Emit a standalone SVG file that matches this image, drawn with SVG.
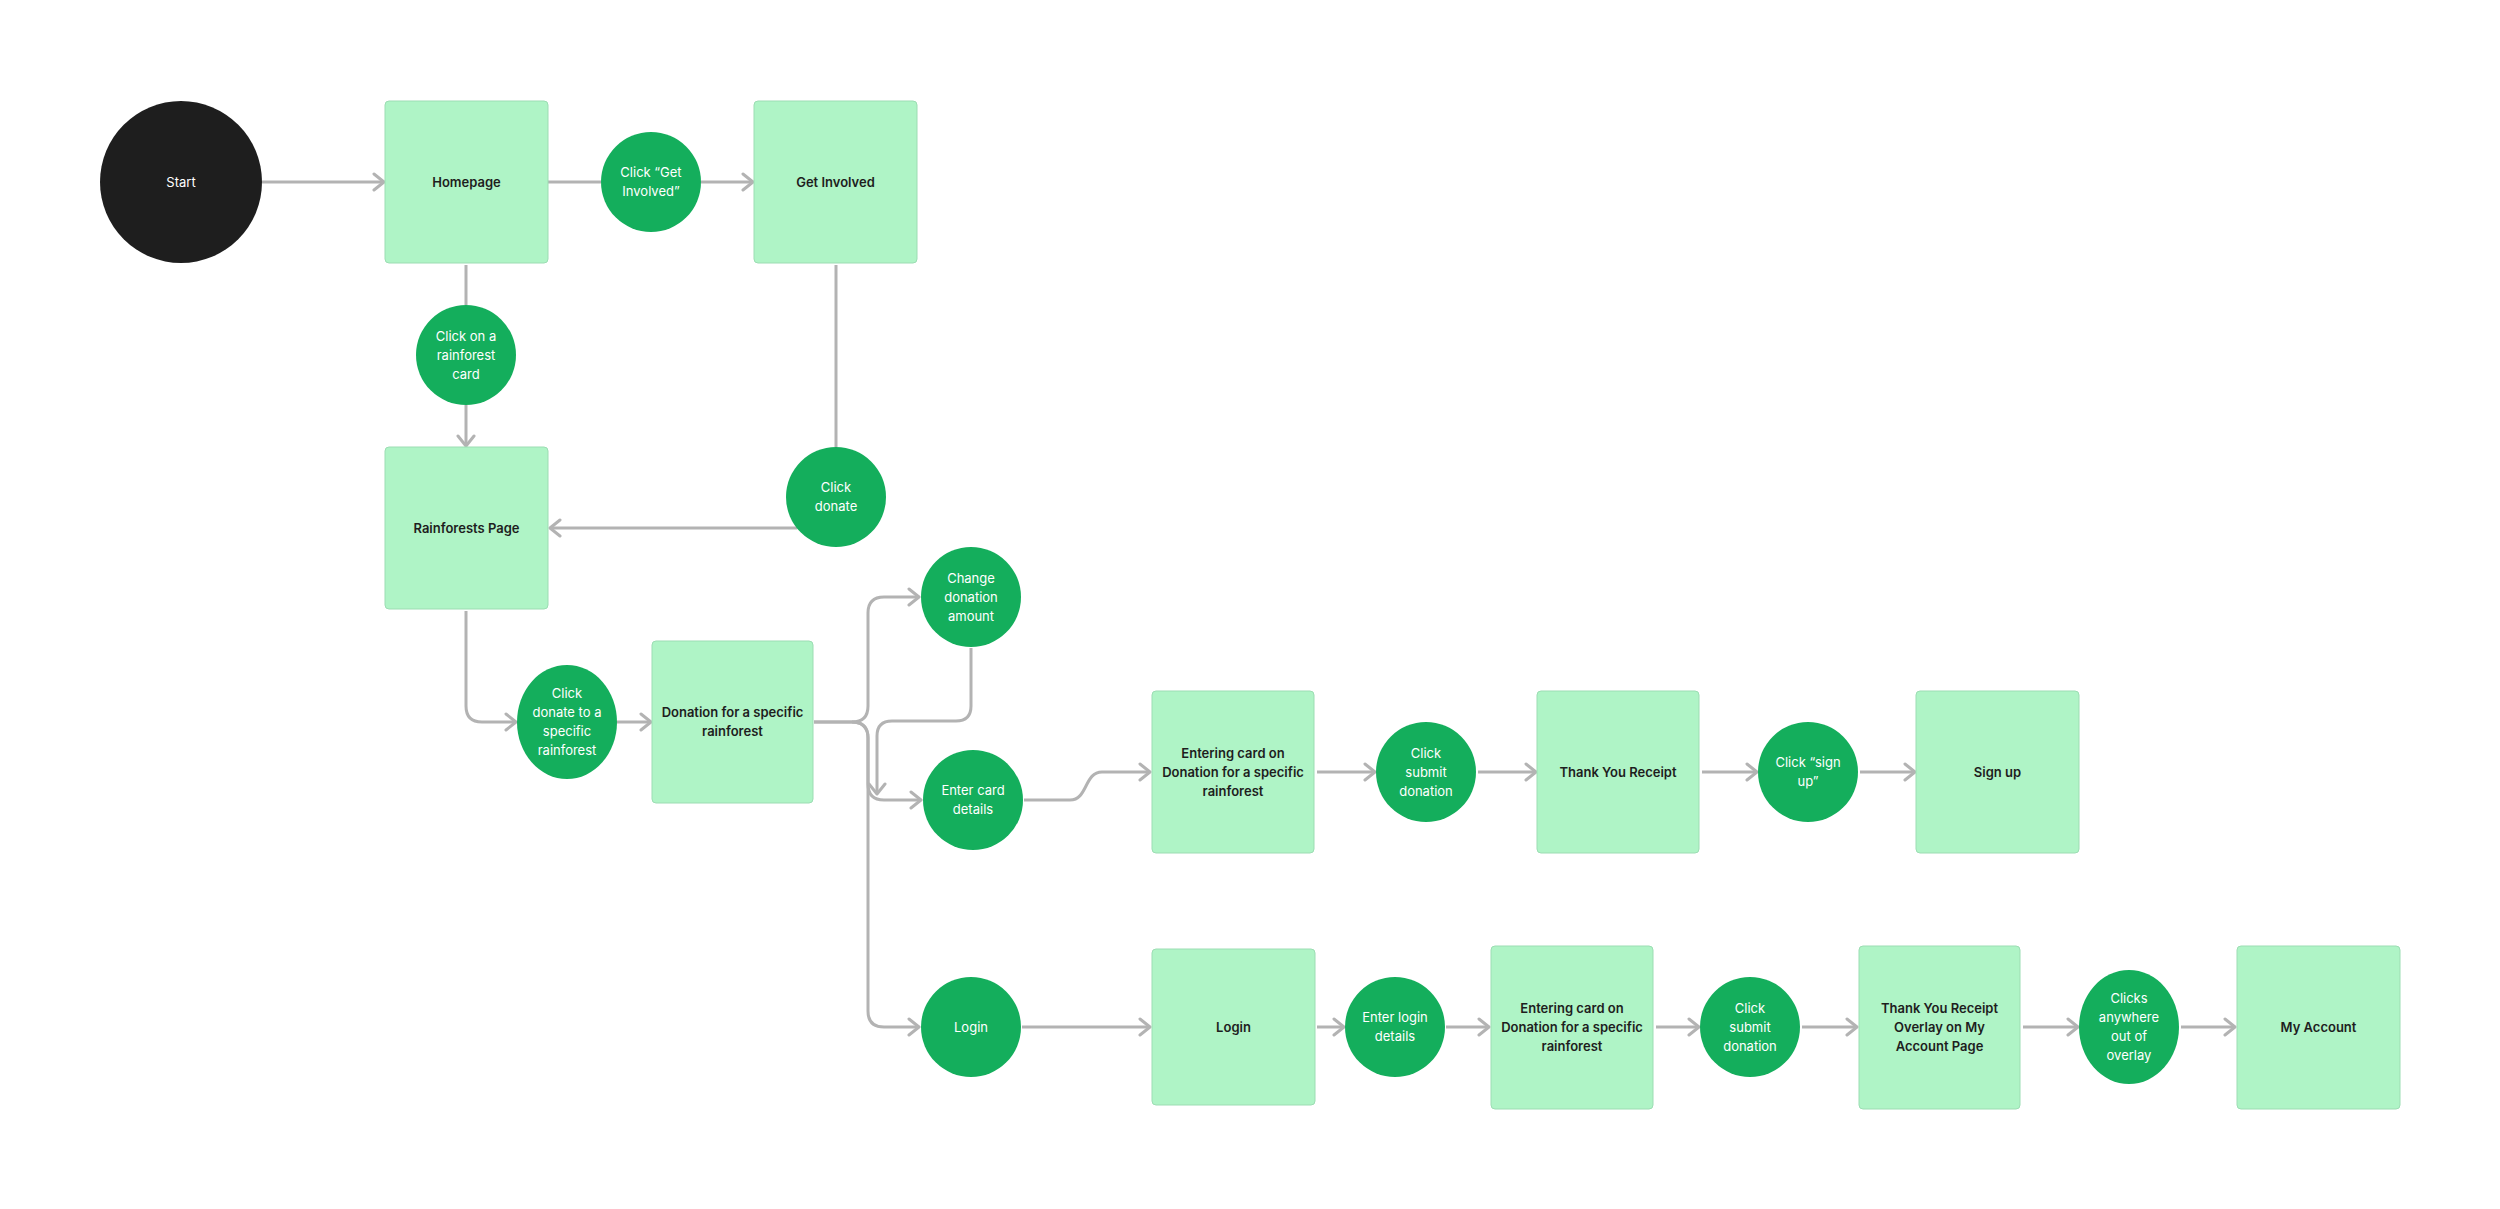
<svg xmlns="http://www.w3.org/2000/svg" width="2500" height="1209" viewBox="0 0 2500 1209">
<defs>
<style>
.bg{fill:#FFFFFF}
.page{fill:#AFF4C6;stroke:#9CDDB3;stroke-width:1}
.act{fill:#14AE5C}
.start{fill:#1E1E1E}
.lt{font-family:Inter,"Liberation Sans",sans-serif;font-size:13px;font-weight:600;fill:#1E1E1E;text-anchor:middle}
.wt{font-family:Inter,"Liberation Sans",sans-serif;font-size:13px;font-weight:400;fill:#FFFFFF;text-anchor:middle}
.c{fill:none;stroke:#B3B3B3;stroke-width:3;stroke-linejoin:round}
</style>
<marker id="ah" markerUnits="userSpaceOnUse" markerWidth="24" markerHeight="24" viewBox="-12 -12 24 24" refX="0" refY="0" orient="auto">
<path d="M -10 -8 L 0 0 L -10 8" fill="none" stroke="#B3B3B3" stroke-width="3" stroke-linecap="round" stroke-linejoin="round"/>
</marker>
</defs>
<rect class="bg" x="0" y="0" width="2500" height="1209"/>

<g id="connectors">
<path class="c" d="M 262 182 H 384" marker-end="url(#ah)"/>
<path class="c" d="M 548 182 H 601"/>
<path class="c" d="M 701 182 H 753" marker-end="url(#ah)"/>
<path class="c" d="M 466 265 V 305"/>
<path class="c" d="M 466 405 V 446" marker-end="url(#ah)"/>
<path class="c" d="M 836 265 V 447"/>
<path class="c" d="M 797 528 H 550" marker-end="url(#ah)"/>
<path class="c" d="M 466 611 V 706 Q 466 722 482 722 H 516" marker-end="url(#ah)"/>
<path class="c" d="M 617 722 H 651" marker-end="url(#ah)"/>
<path class="c" d="M 814 722 H 852 Q 868 722 868 706 V 613 Q 868 597 884 597 H 919" marker-end="url(#ah)"/>
<path class="c" d="M 814 722 H 852 Q 868 722 868 738 V 784 Q 868 800 884 800 H 921" marker-end="url(#ah)"/>
<path class="c" d="M 852 722 Q 868 722 868 738 V 1011 Q 868 1027 884 1027 H 919" marker-end="url(#ah)"/>
<path class="c" d="M 971 648 V 706 Q 971 721 956 721 H 892 Q 877 721 877 736 V 794" marker-end="url(#ah)"/>
<path class="c" d="M 1024 800 H 1070 C 1088 800 1084 772 1102 772 H 1150" marker-end="url(#ah)"/>
<path class="c" d="M 1317 772 H 1375" marker-end="url(#ah)"/>
<path class="c" d="M 1478 772 H 1536" marker-end="url(#ah)"/>
<path class="c" d="M 1702 772 H 1757" marker-end="url(#ah)"/>
<path class="c" d="M 1860 772 H 1915" marker-end="url(#ah)"/>
<path class="c" d="M 1022 1027 H 1150" marker-end="url(#ah)"/>
<path class="c" d="M 1317 1027 H 1344" marker-end="url(#ah)"/>
<path class="c" d="M 1446 1027 H 1489" marker-end="url(#ah)"/>
<path class="c" d="M 1656 1027 H 1699" marker-end="url(#ah)"/>
<path class="c" d="M 1802 1027 H 1857" marker-end="url(#ah)"/>
<path class="c" d="M 2023 1027 H 2078" marker-end="url(#ah)"/>
<path class="c" d="M 2181 1027 H 2235" marker-end="url(#ah)"/>
</g>

<g id="start"><circle class="start" cx="181" cy="182" r="81"/><text class="wt" x="181" y="186.6">Start</text></g>
<g id="homepage"><rect class="page" x="385" y="101" width="163" height="162" rx="4"/><text class="lt" x="466.5" y="186.6">Homepage</text></g>
<g id="click-get-involved"><circle class="act" cx="651" cy="182" r="50"/><text class="wt" x="651" y="177.1">Click “Get</text><text class="wt" x="651" y="196.1">Involved”</text></g>
<g id="get-involved"><rect class="page" x="754" y="101" width="163" height="162" rx="4"/><text class="lt" x="835.5" y="186.6">Get Involved</text></g>
<g id="click-rainforest-card"><circle class="act" cx="466" cy="355" r="50"/><text class="wt" x="466" y="340.6">Click on a</text><text class="wt" x="466" y="359.6">rainforest</text><text class="wt" x="466" y="378.6">card</text></g>
<g id="rainforests-page"><rect class="page" x="385" y="447" width="163" height="162" rx="4"/><text class="lt" x="466.5" y="532.6">Rainforests Page</text></g>
<g id="click-donate"><circle class="act" cx="836" cy="497" r="50"/><text class="wt" x="836" y="492.1">Click</text><text class="wt" x="836" y="511.1">donate</text></g>
<g id="click-donate-specific"><ellipse class="act" cx="567" cy="722" rx="50" ry="57"/><text class="wt" x="567" y="698.1">Click</text><text class="wt" x="567" y="717.1">donate to a</text><text class="wt" x="567" y="736.1">specific</text><text class="wt" x="567" y="755.1">rainforest</text></g>
<g id="donation-specific"><rect class="page" x="652" y="641" width="161" height="162" rx="4"/><text class="lt" x="732.5" y="717.1">Donation for a specific</text><text class="lt" x="732.5" y="736.1">rainforest</text></g>
<g id="change-donation"><circle class="act" cx="971" cy="597" r="50"/><text class="wt" x="971" y="582.6">Change</text><text class="wt" x="971" y="601.6">donation</text><text class="wt" x="971" y="620.6">amount</text></g>
<g id="enter-card"><circle class="act" cx="973" cy="800" r="50"/><text class="wt" x="973" y="795.1">Enter card</text><text class="wt" x="973" y="814.1">details</text></g>
<g id="entering-card-1"><rect class="page" x="1152" y="691" width="162" height="162" rx="4"/><text class="lt" x="1233" y="757.6">Entering card on</text><text class="lt" x="1233" y="776.6">Donation for a specific</text><text class="lt" x="1233" y="795.6">rainforest</text></g>
<g id="click-submit-1"><circle class="act" cx="1426" cy="772" r="50"/><text class="wt" x="1426" y="757.6">Click</text><text class="wt" x="1426" y="776.6">submit</text><text class="wt" x="1426" y="795.6">donation</text></g>
<g id="thank-you"><rect class="page" x="1537" y="691" width="162" height="162" rx="4"/><text class="lt" x="1618" y="776.6">Thank You Receipt</text></g>
<g id="click-sign-up"><circle class="act" cx="1808" cy="772" r="50"/><text class="wt" x="1808" y="767.1">Click “sign</text><text class="wt" x="1808" y="786.1">up”</text></g>
<g id="sign-up"><rect class="page" x="1916" y="691" width="163" height="162" rx="4"/><text class="lt" x="1997.5" y="776.6">Sign up</text></g>
<g id="login-action"><circle class="act" cx="971" cy="1027" r="50"/><text class="wt" x="971" y="1031.6">Login</text></g>
<g id="login-page"><rect class="page" x="1152" y="949" width="163" height="156" rx="4"/><text class="lt" x="1233.5" y="1031.6">Login</text></g>
<g id="enter-login"><circle class="act" cx="1395" cy="1027" r="50"/><text class="wt" x="1395" y="1022.1">Enter login</text><text class="wt" x="1395" y="1041.1">details</text></g>
<g id="entering-card-2"><rect class="page" x="1491" y="946" width="162" height="163" rx="4"/><text class="lt" x="1572" y="1012.6">Entering card on</text><text class="lt" x="1572" y="1031.6">Donation for a specific</text><text class="lt" x="1572" y="1050.6">rainforest</text></g>
<g id="click-submit-2"><circle class="act" cx="1750" cy="1027" r="50"/><text class="wt" x="1750" y="1012.6">Click</text><text class="wt" x="1750" y="1031.6">submit</text><text class="wt" x="1750" y="1050.6">donation</text></g>
<g id="thank-you-overlay"><rect class="page" x="1859" y="946" width="161" height="163" rx="4"/><text class="lt" x="1939.5" y="1012.6">Thank You Receipt</text><text class="lt" x="1939.5" y="1031.6">Overlay on My</text><text class="lt" x="1939.5" y="1050.6">Account Page</text></g>
<g id="clicks-anywhere"><ellipse class="act" cx="2129" cy="1027" rx="50" ry="57"/><text class="wt" x="2129" y="1003.1">Clicks</text><text class="wt" x="2129" y="1022.1">anywhere</text><text class="wt" x="2129" y="1041.1">out of</text><text class="wt" x="2129" y="1060.1">overlay</text></g>
<g id="my-account"><rect class="page" x="2237" y="946" width="163" height="163" rx="4"/><text class="lt" x="2318.5" y="1031.6">My Account</text></g>
</svg>
